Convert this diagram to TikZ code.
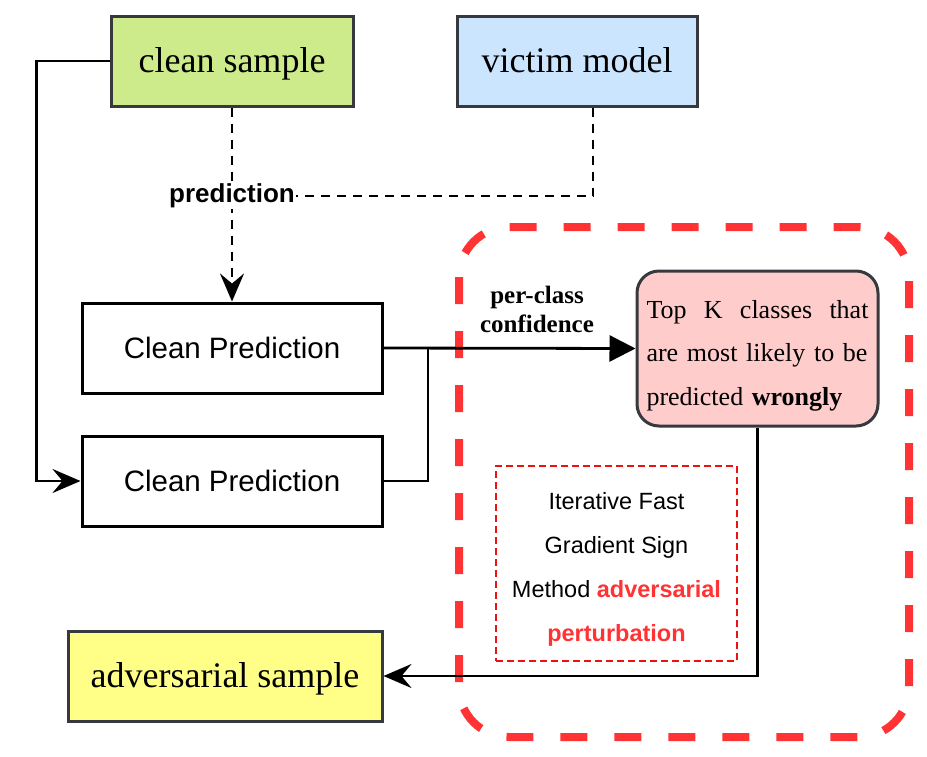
\documentclass[tikz,border=0pt]{standalone}
\usepackage{fontspec}
\setmainfont{Liberation Serif}
\setsansfont{Liberation Sans}
\usetikzlibrary{arrows.meta}
\definecolor{gfill}{HTML}{CDEB8B}
\definecolor{bfill}{HTML}{CCE5FF}
\definecolor{pfill}{HTML}{FFCCCC}
\definecolor{yfill}{HTML}{FFFF88}
\definecolor{dstroke}{HTML}{36393D}
\definecolor{rline}{HTML}{FF3333}
\definecolor{rbox}{HTML}{EE1111}
\tikzset{
  bigbox/.style={draw=dstroke, line width=3pt, minimum width=#1, minimum height=90pt, inner sep=0pt,
    text height=25pt, text depth=3pt, font=\rmfamily\fontsize{36}{40}\selectfont},
  predbox/.style={draw=black, line width=3pt, fill=white, minimum width=300pt, minimum height=90pt, inner sep=0pt,
    font=\sffamily\fontsize{29.5}{32}\selectfont},
  conn/.style={line width=2.8pt, draw=black},
  dashconn/.style={line width=2.8pt, draw=black, dash pattern=on 9pt off 7pt},
  classic/.style={-{Stealth[length=28pt, width=24pt, inset=10pt]}},
  blocktip/.style={-{Triangle[length=26pt, width=26pt]}},
}
\begin{document}
\begin{tikzpicture}[x=1pt, y=-1pt]
\useasboundingbox (0,0) rectangle (927,756);
% outer dashed region
\draw[rline, line width=8pt, dash pattern=on 27pt off 27pt, rounded corners=50pt] (459,227) rectangle (909,737);
% nodes
\node[bigbox=242pt, fill=gfill] (cs) at (232,61) {clean sample};
\node[bigbox=240pt, fill=bfill] (vm) at (577,61) {victim model};
\node[predbox] (cp1) at (232,348) {Clean Prediction};
\node[predbox] (cp2) at (232,481) {Clean Prediction};
\node[bigbox=314pt, fill=yfill] (adv) at (225,676) {adversarial sample};
\node[draw=dstroke, line width=3pt, fill=pfill, rounded corners=22pt, minimum width=241pt, minimum height=155pt, inner sep=0pt] (topk) at (757.5,348.5) {};
\node[text width=222pt, align=left, inner sep=0pt, font=\rmfamily\fontsize{26}{43.5}\selectfont] (topktext) at ([yshift=-7pt]topk.center)
  {\hbox to 222pt{Top\hfill K\hfill classes\hfill that}\\are most likely to be\\predicted \textbf{wrongly}};
\node[draw=rbox, line width=2.8pt, dash pattern=on 7pt off 4pt, minimum width=241pt, minimum height=195pt, inner sep=0pt] (ifgsm) at (616.5,563.5) {};
\node[align=center, inner sep=0pt, font=\sffamily\fontsize{23.5}{44}\selectfont] (ifgsmtext) at (616.5,569.5)
  {Iterative Fast\\Gradient Sign\\Method \textcolor{rline}{\textbf{adversarial}}\\\textcolor{rline}{\textbf{perturbation}}};
\node[align=center, inner sep=0pt, font=\rmfamily\bfseries\fontsize{25}{29}\selectfont] (pcc) at (537,309) {per-class\\confidence};
% connectors
\draw[dashconn, classic] (cs.south) -- (cp1.north);
\node[fill=white, inner sep=1pt, font=\sffamily\bfseries\fontsize{26}{28}\selectfont] (plabel) at (232,196) {prediction};
\coordinate (vmb) at ([xshift=16pt]vm.south);
\draw[dashconn] (vmb) |- (plabel.east);
\draw[conn, blocktip] (cp1.east) -- (topk.west);
\coordinate (join) at (428,348);
\draw[conn] (cp2.east) -| (join);
\draw[conn, classic] (cs.west) -- ++(-73,0) |- (cp2.west);
\draw[conn, classic] (topk.south) |- (adv.east);
\end{tikzpicture}
\end{document}
